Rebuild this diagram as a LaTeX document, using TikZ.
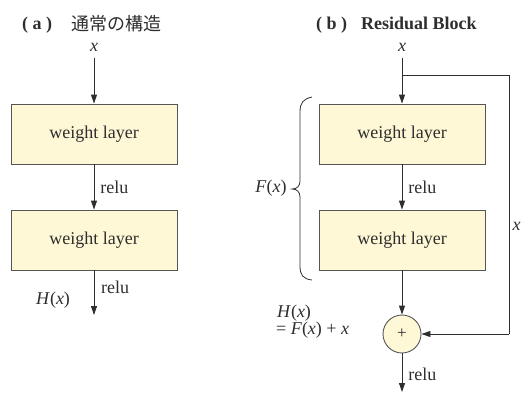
\documentclass[tikz,border=0pt]{standalone}
\usepackage{fontspec}
\setmainfont{Liberation Serif}
\newfontfamily\jpfont{Noto Sans CJK JP}
\usetikzlibrary{arrows.meta}
\definecolor{boxfill}{HTML}{FFF8D6}
\definecolor{linecol}{HTML}{2E2E2E}
\definecolor{edgecol}{HTML}{555555}
\begin{document}
\begin{tikzpicture}[x=1pt,y=-1pt,
  every node/.style={font=\fontsize{18}{20}\selectfont, text=linecol, inner sep=0pt},
  layer/.style={draw=edgecol, line width=0.9pt, fill=boxfill, minimum width=166pt, minimum height=60pt},
  addnode/.style={circle, draw=edgecol, line width=0.9pt, fill=boxfill, minimum size=38pt},
  flow/.style={draw=linecol, line width=0.9pt, -{Triangle[length=9pt,width=6pt]}},
  wire/.style={draw=linecol, line width=0.9pt},
  title/.style={font=\fontsize{18}{20}\selectfont\bfseries}]
\useasboundingbox (0,0) rectangle (521,396);

% titles
\node[title, anchor=west] (ta) at (22,25) {( a )};
\node[anchor=west, font=\fontsize{18}{20}\selectfont\jpfont] (tajp) at (71,24) {通常の構造};
\node[title, anchor=west] (tb) at (316,25) {( b )\hspace{14pt}Residual Block};

% (a) plain stack
\node (xa) at (94,47) {\textit{x}};
\coordinate (xa0) at (94,58);
\node[layer] (a1) at (94,134) {weight layer};
\node[layer] (a2) at (94,240) {weight layer};
\coordinate (aend) at (94,315);
\draw[flow] (xa0) -- (a1.north);
\draw[flow] (a1.south) -- node[right=6pt] {relu} (a2.north);
\draw[flow] (a2.south) -- (aend);
\node[anchor=west] (ra) at (101,287) {relu};
\node[anchor=west] (ha) at (36,300) {\textit{H}(\textit{x})};

% (b) residual block
\node (xb) at (402,47) {\textit{x}};
\coordinate (xb0) at (402,58);
\coordinate (split) at (402,75);
\node[layer] (b1) at (402,134) {weight layer};
\node[layer] (b2) at (402,240) {weight layer};
\node[addnode] (add) at (402,334) {\fontsize{17}{19}\selectfont +};
\coordinate (bend) at (402,392);
\coordinate (sk1) at (509,75);
\coordinate (sk2) at (509,334);
\draw[flow] (xb0) -- (b1.north);
\draw[flow] (b1.south) -- node[right=6pt] {relu} (b2.north);
\draw[flow] (b2.south) -- (add.north);
\draw[flow] (add.south) -- node[right=6pt, yshift=-2pt] {relu} (bend);
\draw[wire] (split) -- (sk1) -- (sk2);
\draw[flow] (sk2) -- (add.east);
\node[anchor=west] (xs) at (512.5,226) {\textit{x}};

% brace around the two layers
\draw[wire, line width=0.8pt] (312,97) .. controls (303,99) and (300,103) .. (300,112)
  -- (300,181) .. controls (300,186) and (297,189) .. (292,189)
  .. controls (297,189) and (300,192) .. (300,197)
  -- (300,266) .. controls (300,275) and (303,279) .. (312,280);
\node (fx) at (271,188) {\textit{F}(\textit{x})};

% output relation
\node[anchor=west] (hb) at (277,313) {\textit{H}(\textit{x})};
\node[anchor=west] (hb2) at (276,330) {= \textit{F}(\textit{x}) + \textit{x}};
\end{tikzpicture}
\end{document}
